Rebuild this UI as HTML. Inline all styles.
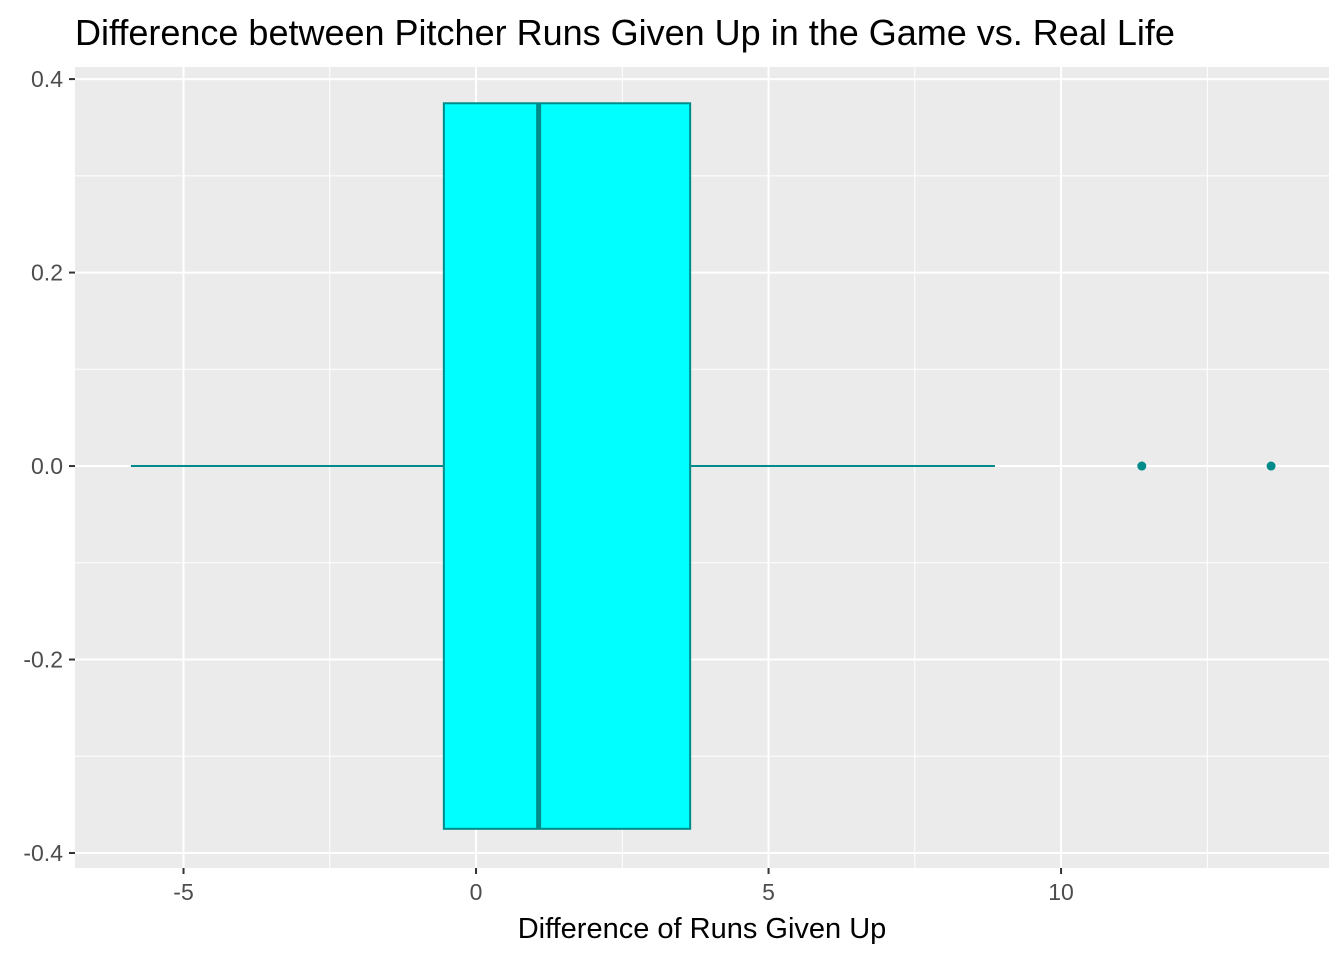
<!DOCTYPE html>
<html><head><meta charset="utf-8"><style>
body{margin:0;background:#fff;}
svg text{font-family:"Liberation Sans",Arial,sans-serif;}
</style></head><body>
<svg id="chart" width="1344" height="960">
<text x="75" y="45" font-size="36" fill="#000">Difference between Pitcher Runs Given Up in the Game vs. Real Life</text>
<rect x="75" y="67" width="1254" height="801" fill="#ebebeb"/>
<g id="grid"></g>
<g id="marks"></g>
<g id="axes"></g>
<text x="702" y="938" font-size="29" text-anchor="middle" fill="#000">Difference of Runs Given Up</text>
</svg>
<script>
const xTicks=[-5,0,5,10];
const yTicks=[-0.4,-0.2,0.0,0.2,0.4];
const yTickLabels=["-0.4","-0.2","0.0","0.2","0.4"];
const boxStats=[-5.9,-0.55,1.07,3.66,8.87]; // min, q1, median, q3, max
const outliers=[11.38,13.59];
const boxHalfWidth=[0.375];
const X0=-6.855,X1=14.58,Y0=-0.4155,Y1=0.4125;
const px=v=>75+(v-X0)/(X1-X0)*1254;
const py=v=>868-(v-Y0)/(Y1-Y0)*801;
const NS="http://www.w3.org/2000/svg";
function mk(t,a,p){const e=document.createElementNS(NS,t);for(const k in a)e.setAttribute(k,a[k]);p.appendChild(e);return e;}
const grid=document.getElementById('grid'),marks=document.getElementById('marks'),axes=document.getElementById('axes');
// minor grid
for(let i=0;i<xTicks.length-1;i++){const m=(xTicks[i]+xTicks[i+1])/2;const l=mk('line',{x1:px(m),x2:px(m),y1:67,y2:868,stroke:'#fff','stroke-width':1},grid);}
[xTicks[0]-2.5,xTicks[xTicks.length-1]+2.5].forEach(m=>{if(px(m)>75&&px(m)<1329){const l=mk('line',{x1:px(m),x2:px(m),y1:67,y2:868,stroke:'#fff','stroke-width':1},grid);}});
for(let i=0;i<yTicks.length-1;i++){const m=(yTicks[i]+yTicks[i+1])/2;const l=mk('line',{x1:75,x2:1329,y1:py(m),y2:py(m),stroke:'#fff','stroke-width':1},grid);}
xTicks.forEach(t=>{const l=mk('line',{x1:px(t),x2:px(t),y1:67,y2:868,stroke:'#fff','stroke-width':2},grid);
const k=mk('line',{x1:px(t),x2:px(t),y1:868,y2:874,stroke:'#333','stroke-width':2},axes);
const tx=mk('text',{x:px(t),y:900,'font-size':23,fill:'#4d4d4d','text-anchor':'middle'},axes);tx.textContent=t<0?'-'+Math.abs(t):t;});
yTicks.forEach((t,i)=>{const l=mk('line',{x1:75,x2:1329,y1:py(t),y2:py(t),stroke:'#fff','stroke-width':2},grid);
const k=mk('line',{x1:69,x2:75,y1:py(t),y2:py(t),stroke:'#333','stroke-width':2},axes);
const tx=mk('text',{x:63,y:py(t)+8,'font-size':23,fill:'#4d4d4d','text-anchor':'end'},axes);tx.textContent=yTickLabels[i];});
const c='#008b8b',h=boxHalfWidth[0];
let e=mk('line',{x1:px(boxStats[0]),x2:px(boxStats[1]),y1:py(0),y2:py(0),stroke:c,'stroke-width':2},marks);
e=mk('line',{x1:px(boxStats[3]),x2:px(boxStats[4]),y1:py(0),y2:py(0),stroke:c,'stroke-width':2},marks);
e=mk('rect',{x:px(boxStats[1]),y:py(h),width:px(boxStats[3])-px(boxStats[1]),height:py(-h)-py(h),fill:'#00ffff',stroke:c,'stroke-width':2},marks);
e=mk('line',{x1:px(boxStats[2]),x2:px(boxStats[2]),y1:py(h),y2:py(-h),stroke:c,'stroke-width':5},marks);
outliers.forEach(o=>{const p=mk('circle',{cx:px(o),cy:py(0),r:4.5,fill:c},marks);});
</script>
</body></html>
